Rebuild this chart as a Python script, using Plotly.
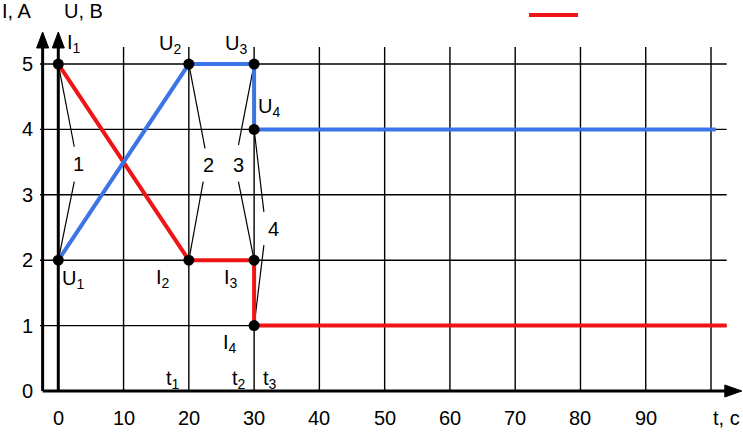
import plotly.graph_objects as go

# ---- data ----
t_current = [0, 20, 30, 30, 102.4]
current = [5, 2, 2, 1, 1]
t_voltage = [0, 20, 30, 30, 100.7]
voltage = [2, 5, 5, 4, 4]

x_ticks = [0, 10, 20, 30, 40, 50, 60, 70, 80, 90]
x_grid = [10, 20, 30, 40, 50, 60, 70, 80, 90, 100]
y_ticks = [0, 1, 2, 3, 4, 5]

point_labels = [
    ("I<sub>1</sub>", 1.0, 5.32, "left"),
    ("U<sub>2</sub>", 17.1, 5.3, "center"),
    ("U<sub>3</sub>", 27.2, 5.3, "center"),
    ("U<sub>4</sub>", 32.3, 4.33, "center"),
    ("U<sub>1</sub>", 2.3, 1.7, "center"),
    ("I<sub>2</sub>", 16.1, 1.72, "center"),
    ("I<sub>3</sub>", 26.4, 1.72, "center"),
    ("I<sub>4</sub>", 26.3, 0.73, "center"),
    ("t<sub>1</sub>", 17.6, 0.17, "center"),
    ("t<sub>2</sub>", 27.7, 0.17, "center"),
    ("t<sub>3</sub>", 32.5, 0.17, "center"),
]

# callout numbers: (label, label_x, label_y, top_end, bottom_end, point_top, point_bottom)
callouts = [
    ("1", 3.06, 3.47, (2.45, 3.735), (2.45, 3.20), (0, 5), (0, 2)),
    ("2", 22.98, 3.45, (22.48, 3.71), (22.2, 3.2), (20, 5), (20, 2)),
    ("3", 27.6, 3.45, (27.6, 3.76), (27.6, 3.2), (30, 5), (30, 2)),
    ("4", 32.9, 2.47, (31.5, 2.74), (31.5, 2.23), (30, 4), (30, 1)),
]

# ---- geometry constants ----
XMIN, XMAX = -8.93, 104.9
YMIN, YMAX = -0.627, 5.979
PX_X = 743 / (XMAX - XMIN)
PX_Y = 432 / (YMAX - YMIN)
I_AXIS_X = -2.4
ARROW_TOP = 5.49
GRID_TOP = 5.26
GRID_LEFT = -2.8
GRID_RIGHT = 102.4

FONT = "Liberation Sans, Arial, sans-serif"
FS = 20
RED = "#f01414"
BLUE = "#3b74e6"

fig = go.Figure()
shapes = []

# vertical grid lines
for gx in x_grid:
    shapes.append(dict(type="line", x0=gx, x1=gx, y0=0, y1=GRID_TOP,
                       line=dict(color="black", width=1.4), layer="below"))
# horizontal grid lines
for gy in y_ticks[1:]:
    shapes.append(dict(type="line", x0=GRID_LEFT, x1=GRID_RIGHT, y0=gy, y1=gy,
                       line=dict(color="black", width=1.4), layer="below"))

# axes (thick)
for ax in [I_AXIS_X, 0]:
    shapes.append(dict(type="line", x0=ax, x1=ax, y0=0, y1=ARROW_TOP - 10 / PX_Y,
                       line=dict(color="black", width=3)))
shapes.append(dict(type="line", x0=I_AXIS_X, x1=XMAX - 12 / PX_X, y0=0, y1=0,
                   line=dict(color="black", width=3)))

# arrow heads
def up_arrow(x):
    w = 6 / PX_X
    h = 16 / PX_Y
    return dict(type="path",
                path=f"M {x - w} {ARROW_TOP - h} L {x + w} {ARROW_TOP - h} L {x} {ARROW_TOP} Z",
                fillcolor="black", line=dict(color="black", width=1))

shapes.append(up_arrow(I_AXIS_X))
shapes.append(up_arrow(0))
tip = XMAX - 1.2 / PX_X
hw = 17 / PX_X
hh = 6 / PX_Y
shapes.append(dict(type="path",
                   path=f"M {tip - hw} {-hh} L {tip - hw} {hh} L {tip} 0 Z",
                   fillcolor="black", line=dict(color="black", width=1)))

# legend line (top right)
shapes.append(dict(type="line", xref="paper", yref="paper",
                   x0=529 / 743, x1=578 / 743, y0=1 - 15 / 432, y1=1 - 15 / 432,
                   line=dict(color=RED, width=4)))

# callout leader lines
for lab, lx, ly, te, be, pt, pb in callouts:
    fig.add_trace(go.Scatter(x=[pt[0], te[0]], y=[pt[1], te[1]], mode="lines",
                             line=dict(color="black", width=1.2), showlegend=False,
                             hoverinfo="skip"))
    fig.add_trace(go.Scatter(x=[be[0], pb[0]], y=[be[1], pb[1]], mode="lines",
                             line=dict(color="black", width=1.2), showlegend=False,
                             hoverinfo="skip"))

# data lines
fig.add_trace(go.Scatter(x=t_current, y=current, mode="lines",
                         line=dict(color=RED, width=4), showlegend=False))
fig.add_trace(go.Scatter(x=t_voltage, y=voltage, mode="lines",
                         line=dict(color=BLUE, width=4), showlegend=False))
# points
fig.add_trace(go.Scatter(x=t_current[:4] + t_voltage[:4], y=current[:4] + voltage[:4],
                         mode="markers", marker=dict(color="black", size=11),
                         showlegend=False))

annotations = []
def txt(text, x, y, xanchor="center", yanchor="middle", xref="x", yref="y"):
    annotations.append(dict(text=text, x=x, y=y, xref=xref, yref=yref,
                            xanchor=xanchor, yanchor=yanchor, showarrow=False,
                            font=dict(family=FONT, size=FS, color="black")))

for v in x_ticks:
    txt(str(v), v, -0.41)
for v in y_ticks:
    txt(str(v), -3.57, v, xanchor="right")
txt("t, c", 104.7, -0.41, xanchor="right")
txt("I, A", XMIN, 5.81, xanchor="left")
txt("U, B", 0.57, 5.81, xanchor="left")
for text, x, y, anc in point_labels:
    txt(text, x, y, xanchor=anc)
for lab, lx, ly, *_ in callouts:
    txt(lab, lx, ly)

fig.update_layout(
    width=743, height=432,
    margin=dict(l=0, r=0, t=0, b=0),
    paper_bgcolor="white", plot_bgcolor="white",
    xaxis=dict(range=[XMIN, XMAX], visible=False, fixedrange=True),
    yaxis=dict(range=[YMIN, YMAX], visible=False, fixedrange=True),
    shapes=shapes, annotations=annotations,
    showlegend=False,
)

fig.write_html("out.html", config={"displayModeBar": False},
               post_script="document.body.style.margin='0';document.body.style.overflow='hidden';")
